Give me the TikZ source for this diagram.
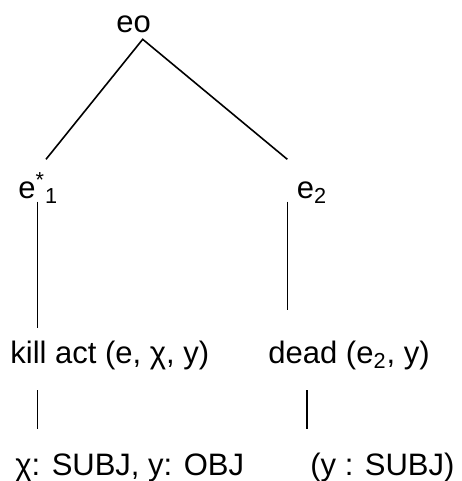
\documentclass[tikz,border=0pt]{standalone}
\usepackage{fontspec}
\setmainfont{Liberation Sans}
\begin{document}
\begin{tikzpicture}[x=0.5pt,y=-0.5pt,
  lbl/.style={anchor=base west,inner sep=0pt,font=\fontsize{15.5}{19}\selectfont},
  edge/.style={line width=0.8pt}]
\useasboundingbox (0,0) rectangle (461,481);
% labels
\node[lbl] (eo) at (116,32.5) {eo};
\node[lbl] (e1) at (18,198) {e\textsuperscript{*}\textsubscript{1}};
\node[lbl] (e2) at (296.5,198) {e\textsubscript{2}};
\node[lbl] (kill) at (10,363) {kill act (e, χ, y)};
\node[lbl] (dead) at (268,363) {dead (e\textsubscript{2}, y)};
\node[lbl] (roleskill) at (15,475.5) {χ: SUBJ, y: OBJ};
\node[lbl] (rolesdead) at (310,475.5) {(y : SUBJ)};

% line ends
\coordinate (top) at (142.7,39.3);
\coordinate (leftend) at (46,159.3);
\coordinate (rightend) at (287.3,159.3);
\coordinate (e1low) at (37.5,201.5);
\coordinate (killup) at (37.5,328.3);
\coordinate (e2low) at (287.3,201.5);
\coordinate (deadup) at (287.3,310);
\coordinate (killlow) at (37.5,390);
\coordinate (roleskillup) at (37.5,429.3);
\coordinate (deadlow) at (306.7,390);
\coordinate (rolesdeadup) at (306.7,429.3);

\draw[edge] (leftend)--(top)--(rightend);
\draw[edge] (e1low)--(killup);
\draw[edge] (e2low)--(deadup);
\draw[edge] (killlow)--(roleskillup);
\draw[edge] (deadlow)--(rolesdeadup);
\end{tikzpicture}
\end{document}
